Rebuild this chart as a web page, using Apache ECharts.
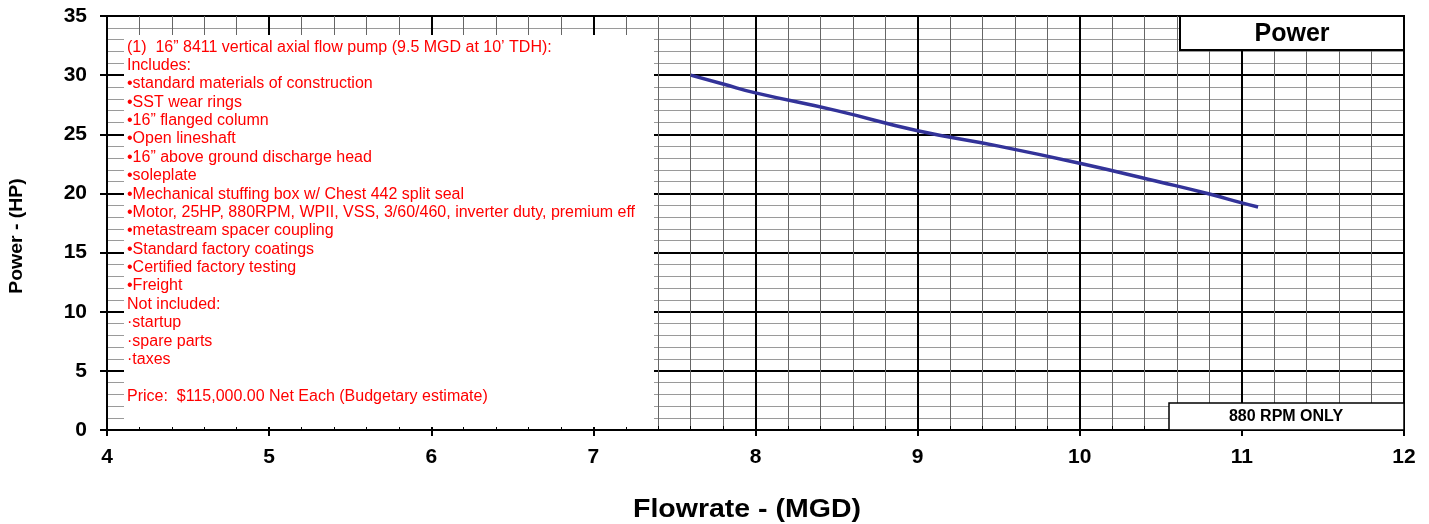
<!DOCTYPE html>
<html><head><meta charset="utf-8">
<script src="https://cdn.jsdelivr.net/npm/echarts@6/dist/echarts.min.js"></script>
<style>html,body{margin:0;padding:0;background:#fff}#c{width:1429px;height:524px}</style>
</head><body><div id="c"></div>
<script>
const flowrate = [7.6, 7.8, 8.0, 8.5, 9.0, 9.5, 10.0, 10.5, 10.8, 11.0, 11.1];
const power    = [30.0, 29.25, 28.5, 27.0, 25.3, 24.0, 22.55, 20.95, 19.95, 19.2, 18.85];
const xTicks = [4, 5, 6, 7, 8, 9, 10, 11, 12];
const yTicks = [0, 5, 10, 15, 20, 25, 30, 35];
const noteLines = [
  "(1)  16\u201d 8411 vertical axial flow pump (9.5 MGD at 10\u2019 TDH):",
  "Includes:",
  "\u2022standard materials of construction",
  "\u2022SST wear rings",
  "\u202216\u201d flanged column",
  "\u2022Open lineshaft",
  "\u202216\u201d above ground discharge head",
  "\u2022soleplate",
  "\u2022Mechanical stuffing box w/ Chest 442 split seal",
  "\u2022Motor, 25HP, 880RPM, WPII, VSS, 3/60/460, inverter duty, premium eff",
  "\u2022metastream spacer coupling",
  "\u2022Standard factory coatings",
  "\u2022Certified factory testing",
  "\u2022Freight",
  "Not included:",
  "\u00b7startup",
  "\u00b7spare parts",
  "\u00b7taxes",
  "",
  "Price:  $115,000.00 Net Each (Budgetary estimate)"
];
const titleText = "Power";
const rpmText = "880 RPM ONLY";
const xName = "Flowrate - (MGD)";
const yName = "Power - (HP)";

const FONT = "'Liberation Sans', Arial, sans-serif";
const chart = echarts.init(document.getElementById('c'), null, {renderer: 'canvas'});
const G = {left: 107, top: 16, right: 25, bottom: 94};

chart.setOption({
  animation: false,
  grid: {left: G.left, top: G.top, right: G.right, bottom: G.bottom, show: true, borderColor: '#000', borderWidth: 2, backgroundColor: '#fff'},
  xAxis: {
    type: 'value', min: xTicks[0], max: xTicks[xTicks.length - 1], interval: 1,
    axisLine: {show: true, lineStyle: {color: '#000', width: 2}},
    axisTick: {show: true, length: 6, lineStyle: {color: '#000', width: 2}},
    minorTick: {show: true, splitNumber: 5, length: -4, lineStyle: {color: '#000', width: 1}},
    splitLine: {show: true, lineStyle: {color: '#000', width: 2}},
    minorSplitLine: {show: true, lineStyle: {color: '#666', width: 1}},
    axisLabel: {margin: 17, color: '#000', fontSize: 21, fontWeight: 'bold', fontFamily: FONT}
  },
  yAxis: {
    type: 'value', min: yTicks[0], max: yTicks[yTicks.length - 1], interval: 5,
    axisLine: {show: true, lineStyle: {color: '#000', width: 2}},
    axisTick: {show: true, length: 7, lineStyle: {color: '#000', width: 2}},
    minorTick: {show: false, splitNumber: 5},
    splitLine: {show: true, lineStyle: {color: '#000', width: 2}},
    minorSplitLine: {show: true, lineStyle: {color: '#9a9a9a', width: 1}},
    axisLabel: {margin: 20, color: '#000', fontSize: 21, fontWeight: 'bold', fontFamily: FONT}
  },
  series: [{
    type: 'line', data: flowrate.map((x, i) => [x, power[i]]),
    smooth: true, showSymbol: false, symbol: 'none',
    lineStyle: {color: '#333399', width: 3.5}, z: 5
  }],
  graphic: [
    {type: 'rect', z: 10, shape: {x: 124, y: 35, width: 530, height: 392}, style: {fill: '#fff'}},
    {type: 'text', z: 11, x: 127, y: 38, style: {text: noteLines.join('\n'), fill: '#ff0000', font: "16px " + FONT, lineHeight: 18.37, verticalAlign: 'top'}},
    {type: 'rect', z: 10, shape: {x: 1180, y: 16, width: 224, height: 34}, style: {fill: '#fff', stroke: '#000', lineWidth: 2}},
    {type: 'text', z: 11, x: 1292, y: 34, style: {text: titleText, fill: '#000', font: "bold 25px " + FONT, align: 'center', verticalAlign: 'middle'}},
    {type: 'rect', z: 10, shape: {x: 1169, y: 403, width: 235, height: 27}, style: {fill: '#fff', stroke: '#000', lineWidth: 1.5}},
    {type: 'text', z: 11, x: 1286, y: 417, style: {text: rpmText, fill: '#000', font: "bold 16px " + FONT, align: 'center', verticalAlign: 'middle'}},
    {type: 'text', z: 11, x: 747, y: 510, scaleX: 1.14, style: {text: xName, fill: '#000', font: "bold 25px " + FONT, align: 'center', verticalAlign: 'middle'}},
    {type: 'text', z: 11, x: 17, y: 236, rotation: Math.PI / 2, scaleX: 1.08, style: {text: yName, fill: '#000', font: "bold 18px " + FONT, align: 'center', verticalAlign: 'middle'}}
  ]
});
</script></body></html>
